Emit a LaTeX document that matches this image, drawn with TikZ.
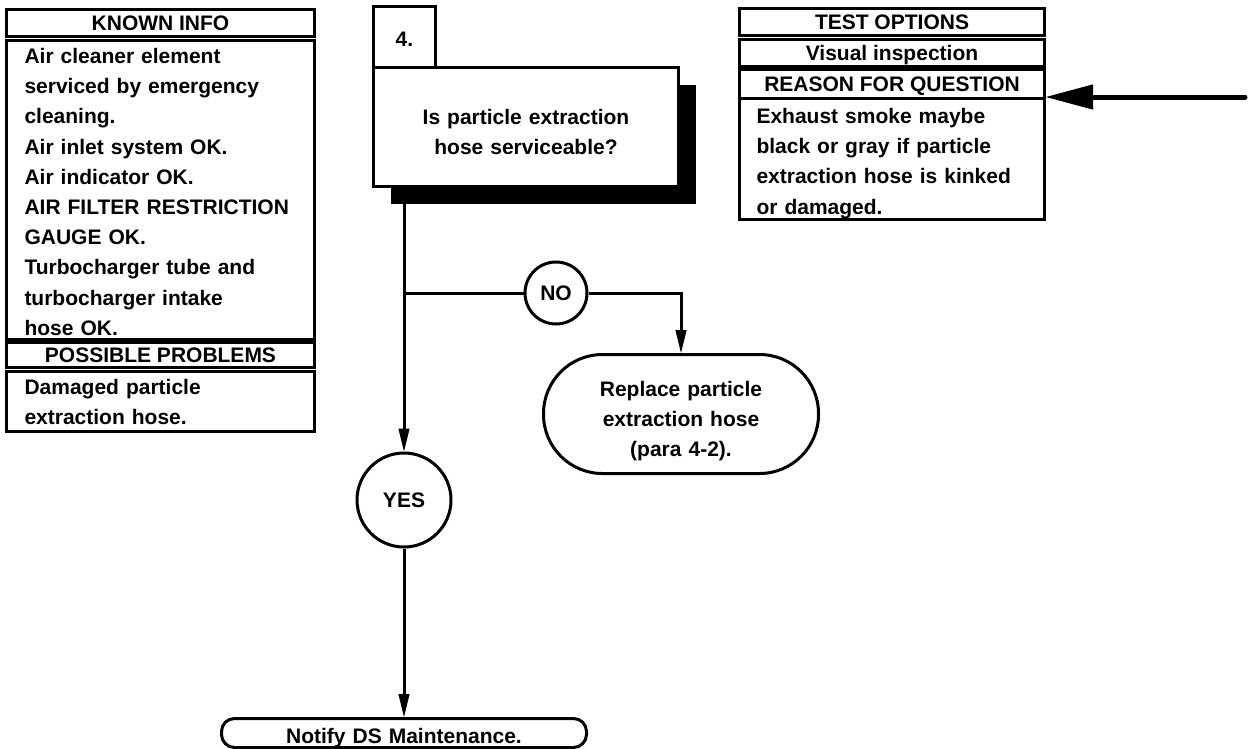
\documentclass[tikz,border=0pt]{standalone}
\usepackage{fontspec}
\setmainfont{Liberation Sans}
\usetikzlibrary{arrows.meta,shadows}
\tikzset{
  box/.style={draw,line width=3pt,inner sep=0pt,font=\bfseries\fontsize{21}{30.2}\selectfont},
  headbox/.style={box,text height=15pt,text depth=0pt,anchor=north west},
  listbox/.style={box,align=left,inner xsep=18pt,anchor=north west},
  ring/.style={box,circle},
  endbox/.style={box,align=center,anchor=north west},
  conn/.style={line width=3pt,-{Triangle[length=23pt,width=11pt,line width=1pt]}},
}
\begin{document}
\begin{tikzpicture}[x=1pt,y=-1pt]
  \useasboundingbox (0,0) rectangle (1249,748);
  \node[headbox,minimum width=308pt,minimum height=27pt] (kihead) at (5,8) {KNOWN INFO};
  \node[listbox,text width=272pt,text height=23pt,text depth=276pt] (kibody) at (5,39)
    {Air cleaner element\\serviced by emergency\\cleaning.\\Air inlet system OK.\\Air indicator OK.\\AIR FILTER RESTRICTION\\GAUGE OK.\\Turbocharger tube and\\turbocharger intake\\hose OK.};
  \node[headbox,minimum width=308pt,minimum height=25pt] (pphead) at (5,341) {POSSIBLE PROBLEMS};
  \node[listbox,text width=272pt,text height=23pt,text depth=37pt] (ppbody) at (5,370)
    {Damaged particle\\extraction hose.};
  \node[headbox,minimum width=305pt,minimum height=27pt] (tohead) at (738,7) {TEST OPTIONS};
  \node[headbox,minimum width=305pt,minimum height=27pt] (tovis) at (738,38) {Visual inspection};
  \node[headbox,minimum width=305pt,minimum height=29pt] (rqhead) at (738,68) {REASON FOR QUESTION};
  \node[listbox,inner xsep=17pt,text width=271pt,text height=25pt,text depth=96pt] (rqbody) at (738,97)
    {Exhaust smoke maybe\\black or gray if particle\\extraction hose is kinked\\or damaged.};
  \node[endbox,text width=62pt,text height=40pt,text depth=21pt] (q4num) at (372,5) {4.};
  \node[endbox,fill=white,drop shadow={shadow xshift=17pt,shadow yshift=-17pt,fill=black,opacity=1},
    text width=305pt,text height=57pt,text depth=62pt] (q4) at (372,66) {Is particle extraction\\hose serviceable?};
  \node[ring,minimum size=94pt] (yes) at (404,500) {YES};
  \node[ring,minimum size=62pt] (no) at (556,293) {NO};
  \node[endbox,rounded corners=59pt,text width=275pt,text height=42pt,text depth=77pt] (fix) at (542,353)
    {Replace particle\\extraction hose\\(para 4-2).};
  \node[endbox,rounded corners=13pt,text width=365pt,text height=25pt,text depth=4pt] (notify) at (220,717)
    {Notify DS Maintenance.};
  \coordinate (split) at (yes.center |- no.center);
  \coordinate (feed) at (1245,97);
  \draw[conn] (q4.south -| yes.north) -- (yes.north);
  \draw[line width=3pt] (split) -- (no);
  \draw[conn] (no) -| (fix);
  \draw[conn] (yes.south) -- (yes.south |- notify.north);
  \draw[line width=5pt,line cap=round,-{Triangle[length=47pt,width=25pt,line width=1pt]}] (feed) -- (rqbody.north east);
\end{tikzpicture}
\end{document}
